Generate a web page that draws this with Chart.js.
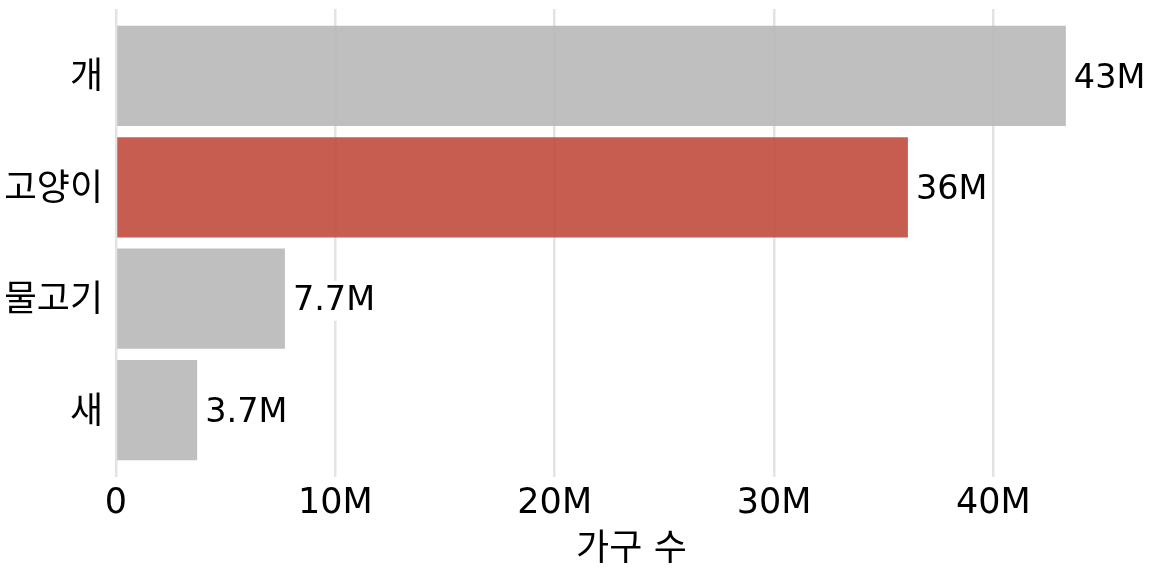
<!DOCTYPE html>
<html>
<head>
<meta charset="utf-8">
<script src="https://cdn.jsdelivr.net/npm/chart.js@4"></script>
<style>
  html, body { margin: 0; padding: 0; background: #ffffff; }
  #wrap { width: 1152px; height: 576px; }
</style>
</head>
<body>
<div id="wrap"><canvas id="c" width="1152" height="576"></canvas></div>
<script>
const categories = ['개', '고양이', '물고기', '새'];
const households = [43.3, 36.1, 7.7, 3.7]; // millions
const xTicks = [0, 10, 20, 30, 40];
const xTickLabels = ['0', '10M', '20M', '30M', '40M'];
const highlight = '고양이';

const FONT = "'DejaVu Sans', 'Noto Sans CJK KR', sans-serif";
const fmt = v => (v >= 10 ? Math.round(v) : v.toFixed(1)) + 'M';
const valueLabels = households.map(fmt);

const barColors = categories.map(c => c === highlight ? 'rgba(193,75,61,0.9)' : 'rgba(184,184,184,0.9)');

const valueLabelPlugin = {
  id: 'valueLabels',
  afterDatasetsDraw(chart) {
    const ctx = chart.ctx;
    const meta = chart.getDatasetMeta(0);
    ctx.save();
    ctx.font = '33.5px ' + FONT;
    ctx.textBaseline = 'middle';
    ctx.textAlign = 'left';
    meta.data.forEach((bar, i) => {
      const t = valueLabels[i];
      const w = ctx.measureText(t).width;
      const x = bar.x + 8;
      const y = bar.y;
      ctx.fillStyle = '#ffffff';
      ctx.fillRect(x - 2, y - 18, w + 4, 40);
      ctx.fillStyle = '#000000';
      ctx.fillText(t, x, y + 3);
    });
    ctx.restore();
  }
};

new Chart(document.getElementById('c'), {
  type: 'bar',
  data: {
    datasets: [{
      data: households.map((v, i) => ({ x: v, y: i })),
      backgroundColor: barColors,
      borderWidth: 0,
      categoryPercentage: 1.0,
      barPercentage: 0.9
    }]
  },
  options: {
    indexAxis: 'y',
    responsive: false,
    animation: false,
    devicePixelRatio: 1,
    layout: { padding: { top: 9, right: 5, bottom: 4, left: 6 } },
    plugins: {
      legend: { display: false },
      tooltip: { enabled: false }
    },
    scales: {
      x: {
        type: 'linear',
        min: 0,
        max: 47,
        afterBuildTicks: s => { s.ticks = xTicks.map(v => ({ value: v })); },
        afterFit: s => { s.height = 95; },
        ticks: {
          color: '#000000',
          font: { family: FONT, size: 35 },
          padding: 6,
          maxRotation: 0,
          callback: v => xTickLabels[xTicks.indexOf(v)]
        },
        grid: { color: '#e3e3e3', lineWidth: 2.5, drawTicks: false },
        border: { display: false },
        title: {
          display: true,
          text: '가구 수',
          color: '#000000',
          font: { family: FONT, size: 36 },
          padding: { top: 0, bottom: 0 }
        }
      },
      y: {
        type: 'linear',
        offset: false,
        reverse: true,
        min: -0.6,
        max: 3.6,
        afterBuildTicks: s => { s.ticks = categories.map((c, i) => ({ value: i })); },
        afterFit: s => { s.paddingTop = 0; s.paddingBottom = 0; s.width = 110; },
        ticks: {
          color: '#000000',
          font: { family: FONT, size: 36 },
          padding: 13,
          labelOffset: 3,
          callback: v => categories[v]
        },
        grid: { display: false, offset: false, drawTicks: false },
        border: { display: false }
      }
    }
  },
  plugins: [valueLabelPlugin]
});
</script>
</body>
</html>
